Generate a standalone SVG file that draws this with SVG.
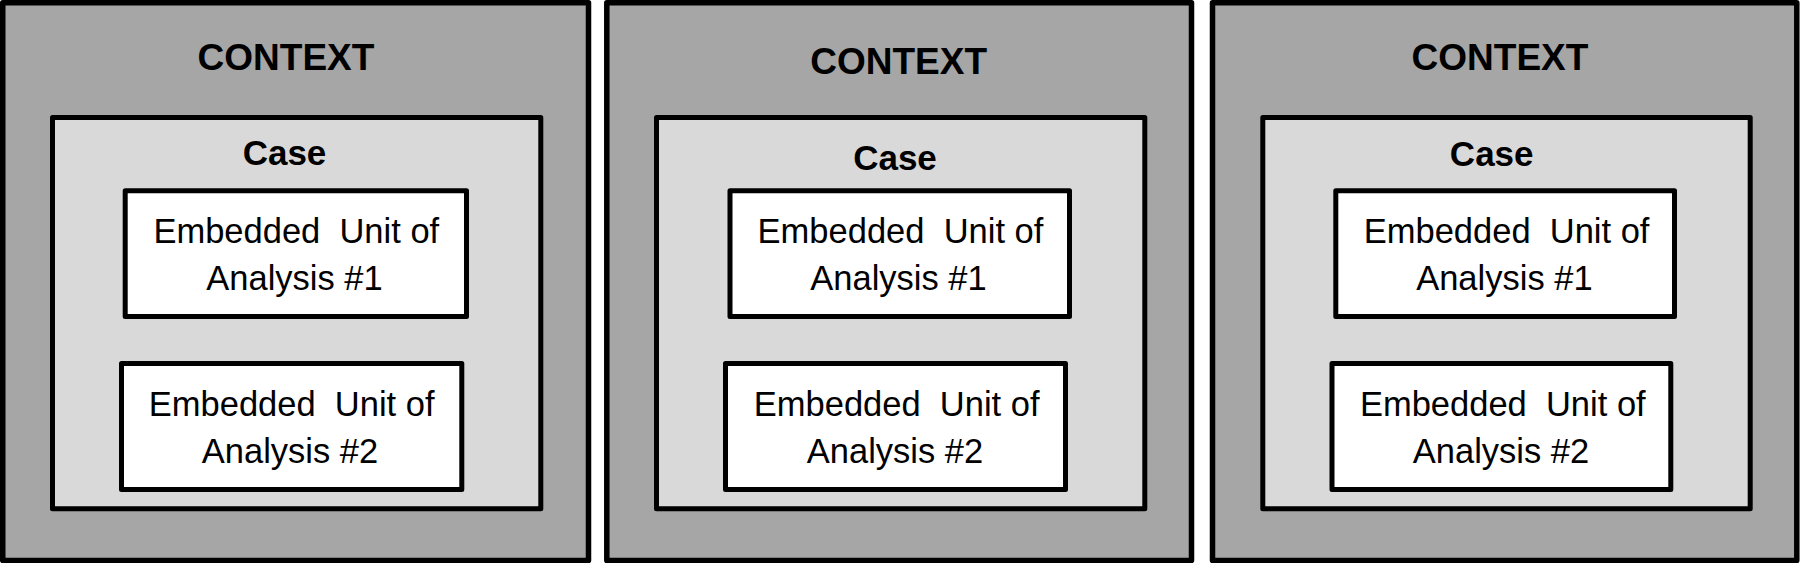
<svg xmlns="http://www.w3.org/2000/svg" width="1800" height="563" viewBox="0 0 1800 563">
<style>
.ctx{fill:#a6a6a6;stroke:#000;stroke-width:5.5;stroke-linejoin:round}
.case{fill:#d9d9d9;stroke:#000;stroke-width:5;stroke-linejoin:round}
.unit{fill:#fff;stroke:#000;stroke-width:5;stroke-linejoin:round}
.t1{font-family:"Liberation Sans",Arial,sans-serif;font-weight:bold;font-size:37px;fill:#000;text-anchor:middle}
.t2{font-family:"Liberation Sans",Arial,sans-serif;font-weight:bold;font-size:35px;fill:#000;text-anchor:middle}
.t3{font-family:"Liberation Sans",Arial,sans-serif;font-size:34.5px;fill:#000;text-anchor:middle;white-space:pre}
</style>
<rect width="1800" height="563" fill="#fff"/>
<g id="context1">
<rect class="ctx" x="2.75" y="2.75" width="585.75" height="557.75"/>
<text class="t1" x="286" y="70">CONTEXT</text>
</g>
<g id="case1">
<rect class="case" x="52.5" y="117.5" width="488.3" height="391.3"/>
<text class="t2" x="284.5" y="165">Case</text>
</g>
<g id="unit1a">
<rect class="unit" x="125.2" y="190.8" width="341.3" height="125.7"/>
<text class="t3" xml:space="preserve" x="296.3" y="242.7">Embedded  Unit of</text>
<text class="t3" x="294.5" y="290">Analysis #1</text>
</g>
<g id="unit1b">
<rect class="unit" x="121.5" y="363.5" width="340.3" height="126"/>
<text class="t3" xml:space="preserve" x="291.7" y="416.3">Embedded  Unit of</text>
<text class="t3" x="290" y="463">Analysis #2</text>
</g>
<g id="context2">
<rect class="ctx" x="606.8" y="2.75" width="584.7" height="557.75"/>
<text class="t1" x="898.6" y="73.5">CONTEXT</text>
</g>
<g id="case2">
<rect class="case" x="656.5" y="117.5" width="488.3" height="391.3"/>
<text class="t2" x="895" y="170">Case</text>
</g>
<g id="unit2a">
<rect class="unit" x="730" y="190.8" width="339.5" height="125.7"/>
<text class="t3" xml:space="preserve" x="900.5" y="242.7">Embedded  Unit of</text>
<text class="t3" x="898.5" y="290">Analysis #1</text>
</g>
<g id="unit2b">
<rect class="unit" x="725.5" y="363.5" width="340" height="126"/>
<text class="t3" xml:space="preserve" x="896.7" y="416.3">Embedded  Unit of</text>
<text class="t3" x="895" y="463">Analysis #2</text>
</g>
<g id="context3">
<rect class="ctx" x="1212.5" y="2.75" width="584.3" height="557.75"/>
<text class="t1" x="1500" y="70">CONTEXT</text>
</g>
<g id="case3">
<rect class="case" x="1262.8" y="117.5" width="487.4" height="391.3"/>
<text class="t2" x="1491.7" y="165.5">Case</text>
</g>
<g id="unit3a">
<rect class="unit" x="1335.8" y="190.8" width="338.7" height="125.7"/>
<text class="t3" xml:space="preserve" x="1506.6" y="242.7">Embedded  Unit of</text>
<text class="t3" x="1504.4" y="290">Analysis #1</text>
</g>
<g id="unit3b">
<rect class="unit" x="1332" y="363.5" width="338.8" height="126"/>
<text class="t3" xml:space="preserve" x="1502.8" y="416.3">Embedded  Unit of</text>
<text class="t3" x="1501" y="463">Analysis #2</text>
</g>
<g id="connectors"></g>
</svg>
